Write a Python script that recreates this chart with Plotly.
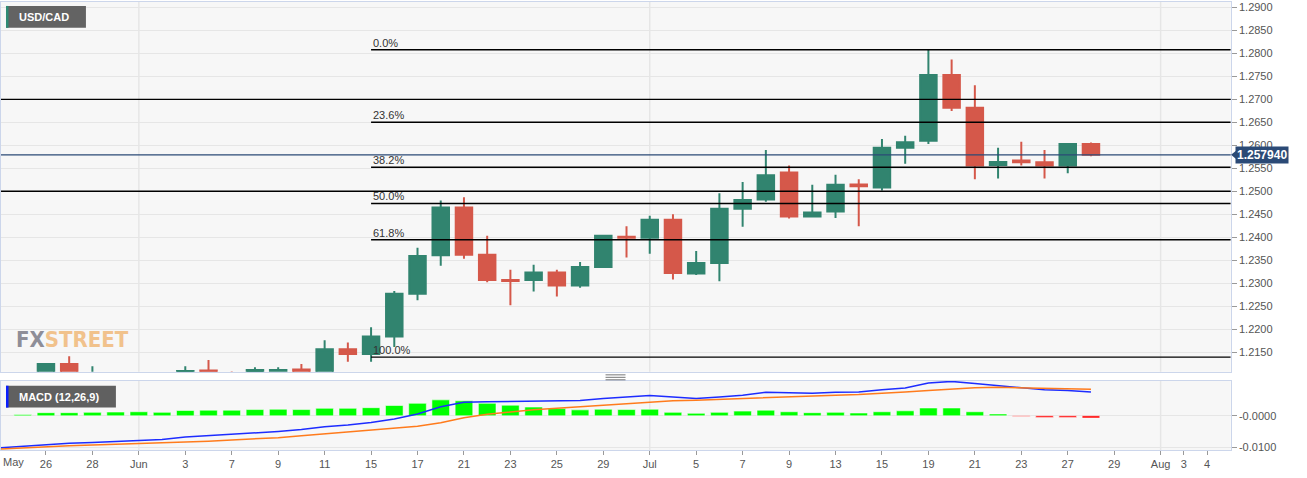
import plotly.graph_objects as go
import pandas as pd

W, H = 1307, 478

# ---------------- data ----------------
dates = [d.strftime("%Y-%m-%d") for d in pd.bdate_range("2021-05-24", "2021-07-28")]
opens = [1.2060, 1.2065, 1.2058, 1.2124, 1.2065, 1.2078, 1.2070, 1.2050, 1.2060, 1.2110,
         1.2090, 1.2085, 1.2109, 1.2112, 1.2085, 1.2156, 1.2146, 1.2184, 1.2277, 1.2361,
         1.2465, 1.2362, 1.2307, 1.2307, 1.2323, 1.2295, 1.2335, 1.2401, 1.2399, 1.2438,
         1.2321, 1.2344, 1.2462, 1.2482, 1.2541, 1.2445, 1.2456, 1.2515, 1.2508, 1.2595,
         1.2610, 1.2753, 1.2682, 1.2557, 1.2567, 1.2563, 1.2556, 1.2603]
highs = [1.2095, 1.2080, 1.2126, 1.2141, 1.2119, 1.2095, 1.2100, 1.2090, 1.2119, 1.2133,
         1.2108, 1.2117, 1.2117, 1.2124, 1.2176, 1.2171, 1.2204, 1.2283, 1.2377, 1.2480,
         1.2487, 1.2403, 1.2329, 1.2340, 1.2329, 1.2346, 1.2404, 1.2424, 1.2447, 1.2450,
         1.2370, 1.2496, 1.2520, 1.2590, 1.2556, 1.2514, 1.2536, 1.2526, 1.2614, 1.2621,
         1.2808, 1.2787, 1.2731, 1.2595, 1.2608, 1.2590, 1.2603, 1.2606]
lows = [1.2050, 1.2045, 1.2050, 1.2070, 1.2050, 1.2060, 1.2040, 1.2040, 1.2050, 1.2060,
        1.2060, 1.2075, 1.2090, 1.2060, 1.2075, 1.2129, 1.2129, 1.2161, 1.2263, 1.2338,
        1.2353, 1.2302, 1.2252, 1.2282, 1.2271, 1.2290, 1.2333, 1.2356, 1.2364, 1.2308,
        1.2318, 1.2304, 1.2423, 1.2477, 1.2441, 1.2444, 1.2442, 1.2424, 1.2502, 1.2560,
        1.2603, 1.2675, 1.2526, 1.2528, 1.2556, 1.2528, 1.2539, 1.2576]
closes = [1.2065, 1.2055, 1.2124, 1.2080, 1.2078, 1.2070, 1.2050, 1.2060, 1.2109, 1.2070,
          1.2085, 1.2111, 1.2111, 1.2085, 1.2156, 1.2146, 1.2184, 1.2277, 1.2359, 1.2465,
          1.2362, 1.2307, 1.2305, 1.2323, 1.2295, 1.2335, 1.2403, 1.2399, 1.2438, 1.2322,
          1.2344, 1.2462, 1.2481, 1.2535, 1.2445, 1.2454, 1.2514, 1.2511, 1.2595, 1.2607,
          1.2753, 1.2682, 1.2556, 1.2564, 1.2563, 1.2556, 1.2603, 1.25794]

macd_line = [-0.0102, -0.0097, -0.0091, -0.0088, -0.0085, -0.0082, -0.0078, -0.0076, -0.0068, -0.0064,
             -0.0059, -0.0055, -0.0050, -0.0044, -0.0035, -0.0029, -0.0021, -0.0010, 0.0006, 0.0029,
             0.0043, 0.0045, 0.0046, 0.0047, 0.0048, 0.0049, 0.0055, 0.0060, 0.0065, 0.0060,
             0.0055, 0.0060, 0.0066, 0.0075, 0.0073, 0.0072, 0.0075, 0.0076, 0.0083, 0.0089,
             0.0105, 0.0110, 0.0103, 0.0096, 0.0090, 0.0083, 0.0081, 0.0076]
signal_line = [-0.0106, -0.0102, -0.0098, -0.0096, -0.0093, -0.0091, -0.0089, -0.0087, -0.0084, -0.0081,
               -0.0077, -0.0074, -0.0070, -0.0064, -0.0058, -0.0052, -0.0047, -0.0041, -0.0033, -0.0022,
               -0.0006, 0.0005, 0.0013, 0.0019, 0.0024, 0.0029, 0.0035, 0.0040, 0.0045, 0.0048,
               0.0050, 0.0053, 0.0056, 0.0059, 0.0061, 0.0063, 0.0066, 0.0068, 0.0071, 0.0076,
               0.0081, 0.0086, 0.0090, 0.0091, 0.0090, 0.0088, 0.0086, 0.0085]
macd_hist = [None, 0.0004, 0.0010, 0.0010, 0.0011, 0.0012, 0.0013, 0.0011, 0.0017, 0.0018,
             0.0018, 0.0020, 0.0021, 0.0020, 0.0024, 0.0024, 0.0026, 0.0033, 0.0040, 0.0051,
             0.0048, 0.0040, 0.0034, 0.0028, 0.0023, 0.0019, 0.0021, 0.0020, 0.0021, 0.0011,
             0.0008, 0.0011, 0.0015, 0.0018, 0.0013, 0.0010, 0.0011, 0.0009, 0.0013, 0.0016,
             0.0025, 0.0025, 0.0013, 0.0006, -0.0002, -0.0005, -0.0005, -0.0007]

tick_dates = ["2021-05-26", "2021-05-28", "2021-06-01", "2021-06-03", "2021-06-07", "2021-06-09",
              "2021-06-11", "2021-06-15", "2021-06-17", "2021-06-21", "2021-06-23", "2021-06-25",
              "2021-06-29", "2021-07-01", "2021-07-05", "2021-07-07", "2021-07-09", "2021-07-13",
              "2021-07-15", "2021-07-19", "2021-07-21", "2021-07-23", "2021-07-27", "2021-07-29",
              "2021-08-02", "2021-08-03", "2021-08-04"]
tick_labels = ["26", "28", "Jun", "3", "7", "9", "11", "15", "17", "21", "23", "25", "29", "Jul",
               "5", "7", "9", "13", "15", "19", "21", "23", "27", "29", "Aug", "3", "4"]
first_label = "May"
month_starts = ["2021-06-01", "2021-07-01", "2021-08-02"]

fib_high = 1.2808
fib_low = 1.2139
fib_start = "2021-06-15"
fib_pcts = [0.0, 23.6, 38.2, 50.0, 61.8, 100.0]
support_levels = [1.2700, 1.2500]
last_price = 1.257940
symbol = "USD/CAD"
macd_name = "MACD (12,26,9)"

# ---------------- positions ----------------
calendar = [d.strftime("%Y-%m-%d") for d in pd.bdate_range("2021-05-24", "2021-08-04")]
pos = {d: i for i, d in enumerate(calendar)}
xs = [pos[d] for d in dates]
x_range = [0.064, 53.02]


def px(x):
    return x / W


def py(y):
    return 1 - y / H


FONT = "Liberation Sans, Arial, sans-serif"
GREEN = "#31846f"
RED = "#d5584a"
GRID = "#e6e6e6"
BORDER = "#ccd6eb"

fig = go.Figure()

fig.add_trace(go.Candlestick(
    x=xs, open=opens, high=highs, low=lows, close=closes,
    increasing=dict(line=dict(color=GREEN, width=2), fillcolor=GREEN),
    decreasing=dict(line=dict(color=RED, width=2), fillcolor=RED),
    whiskerwidth=0, xaxis="x", yaxis="y", hoverinfo="skip", showlegend=False,
))

fig.add_trace(go.Scatter(x=xs, y=macd_line, mode="lines", line=dict(color="#1d2cff", width=1.5),
                         xaxis="x2", yaxis="y2", hoverinfo="skip"))
fig.add_trace(go.Scatter(x=xs, y=signal_line, mode="lines", line=dict(color="#ff7b1c", width=1.5),
                         xaxis="x2", yaxis="y2", hoverinfo="skip"))
hist_colors = ["#00ff00" if (v is not None and v >= 0) else "#ff0000" for v in macd_hist]
fig.add_trace(go.Bar(x=xs, y=macd_hist, marker=dict(color=hist_colors,
                     line=dict(color="rgba(255,255,255,0.55)", width=1)),
                     xaxis="x2", yaxis="y2", hoverinfo="skip"))

shapes = []
annotations = []

# month grid lines
for m in month_starts:
    for yr in ("y domain", "y2 domain"):
        shapes.append(dict(type="line", xref="x", yref=yr, x0=pos[m], x1=pos[m], y0=0, y1=1,
                           line=dict(color=GRID, width=1.5), layer="below"))

# support / resistance lines
for lv in support_levels:
    shapes.append(dict(type="line", xref="x domain", yref="y", x0=0, x1=1, y0=lv, y1=lv,
                       line=dict(color="#000000", width=1.4), layer="above"))

# fibonacci lines
for p in fib_pcts:
    lv = fib_high - p / 100.0 * (fib_high - fib_low)
    shapes.append(dict(type="line", xref="x", yref="y", x0=pos[fib_start], x1=x_range[1], y0=lv, y1=lv,
                       line=dict(color="#000000", width=1.4), layer="above"))
    annotations.append(dict(xref="x", yref="y", x=pos[fib_start], y=lv, xanchor="left", yanchor="bottom",
                            text=f"{p:.1f}%", showarrow=False, xshift=0, yshift=-1,
                            font=dict(family=FONT, size=11, color="#333333")))

# last price line + label
shapes.append(dict(type="line", xref="x domain", yref="y", x0=0, x1=1, y0=last_price, y1=last_price,
                   line=dict(color="#2b4a76", width=1.2), layer="above"))
shapes.append(dict(type="path", xref="paper", yref="y",
                   path=f"M {px(1231)} {last_price} L {px(1236)} {last_price + 0.0009} "
                        f"L {px(1236)} {last_price - 0.0009} Z",
                   fillcolor="#2b4a76", line=dict(width=0), layer="above"))
annotations.append(dict(xref="paper", yref="y", x=px(1235), y=last_price, xanchor="left", yanchor="middle",
                        text=f"<b>{last_price:.6f}</b>", showarrow=False, bgcolor="#2b4a76", borderpad=1,
                        font=dict(family=FONT, size=12, color="#ffffff")))

# symbol label
shapes.append(dict(type="rect", xref="paper", yref="paper", x0=px(5), x1=px(85), y0=py(27), y1=py(5),
                   fillcolor="#636363", line=dict(width=0), layer="above"))
shapes.append(dict(type="rect", xref="paper", yref="paper", x0=px(5), x1=px(7.5), y0=py(27), y1=py(5),
                   fillcolor="#2e8b74", line=dict(width=0), layer="above"))
annotations.append(dict(xref="paper", yref="paper", x=px(16), y=py(16), xanchor="left", yanchor="middle",
                        text=f"<b>{symbol}</b>", showarrow=False,
                        font=dict(family=FONT, size=11, color="#ffffff")))

# MACD label
shapes.append(dict(type="rect", xref="paper", yref="paper", x0=px(5), x1=px(115), y0=py(410), y1=py(388),
                   fillcolor="#606060", line=dict(width=0), layer="above"))
shapes.append(dict(type="rect", xref="paper", yref="paper", x0=px(5), x1=px(7.5), y0=py(410), y1=py(388),
                   fillcolor="#0a1eff", line=dict(width=0), layer="above"))
annotations.append(dict(xref="paper", yref="paper", x=px(16), y=py(399), xanchor="left", yanchor="middle",
                        text=f"<b>{macd_name}</b>", showarrow=False,
                        font=dict(family=FONT, size=11, color="#ffffff")))

# watermark
annotations.append(dict(xref="paper", yref="paper", x=px(13), y=py(341), xanchor="left", yanchor="middle",
                        text='<b><span style="color:#8e8e98">FX</span>'
                             '<span style="color:#f1c28c">STREET</span></b>',
                        showarrow=False,
                        font=dict(family="DejaVu Sans Condensed, Liberation Sans Narrow, sans-serif", size=22)))

# first month label
annotations.append(dict(xref="paper", yref="paper", x=0, y=py(465), xanchor="left", yanchor="middle",
                        text=first_label, showarrow=False, font=dict(family=FONT, size=11, color="#555555")))

# panel resize handle
for yy in (377, 379.5, 382):
    shapes.append(dict(type="line", xref="paper", yref="paper", x0=px(605), x1=px(625), y0=py(yy), y1=py(yy),
                       line=dict(color="#777777", width=1)))

fig.update_layout(
    width=W, height=H,
    margin=dict(l=0, r=0, t=0, b=0),
    paper_bgcolor="#ffffff", plot_bgcolor="#f7f7f7",
    showlegend=False, hovermode=False, dragmode=False,
    bargap=0.24, boxgap=0.29, boxgroupgap=0,
    font=dict(family=FONT, size=11, color="#555555"),
    xaxis=dict(domain=[0, px(1230.7)], range=x_range, anchor="y", showgrid=False, zeroline=False,
               showticklabels=False, ticks="", showline=True, mirror=True, linecolor=BORDER,
               rangeslider=dict(visible=False)),
    yaxis=dict(domain=[py(374), py(1)], range=[1.2107, 1.2912], side="right", anchor="x",
               tick0=1.2150, dtick=0.005, tickformat=".4f", showgrid=True, gridcolor=GRID,
               zeroline=False, ticks="outside", ticklen=5, tickcolor="#999999",
               showline=True, mirror=True, linecolor=BORDER,
               tickfont=dict(family=FONT, size=11, color="#555555")),
    xaxis2=dict(domain=[0, px(1230.7)], matches="x", anchor="y2", showgrid=False, zeroline=False,
                tickmode="array", tickvals=[pos[d] for d in tick_dates], ticktext=tick_labels,
                ticks="outside", ticklen=4, tickcolor="#999999", showline=True, mirror=True, linecolor=BORDER,
                tickfont=dict(family=FONT, size=11, color="#555555")),
    yaxis2=dict(domain=[py(452.7), py(383.3)], range=[-0.0109, 0.0111], side="right", anchor="x2",
                tickmode="array", tickvals=[0, -0.01], ticktext=["-0.0000", "-0.0100"],
                showgrid=True, gridcolor=GRID, zeroline=False, ticks="outside", ticklen=5,
                tickcolor="#999999", showline=True, mirror=True, linecolor=BORDER,
                tickfont=dict(family=FONT, size=11, color="#555555")),
    shapes=shapes, annotations=annotations,
)

fig.write_html("out.html", include_plotlyjs=True, config={"displayModeBar": False},
               post_script="document.body.style.margin='0';")
